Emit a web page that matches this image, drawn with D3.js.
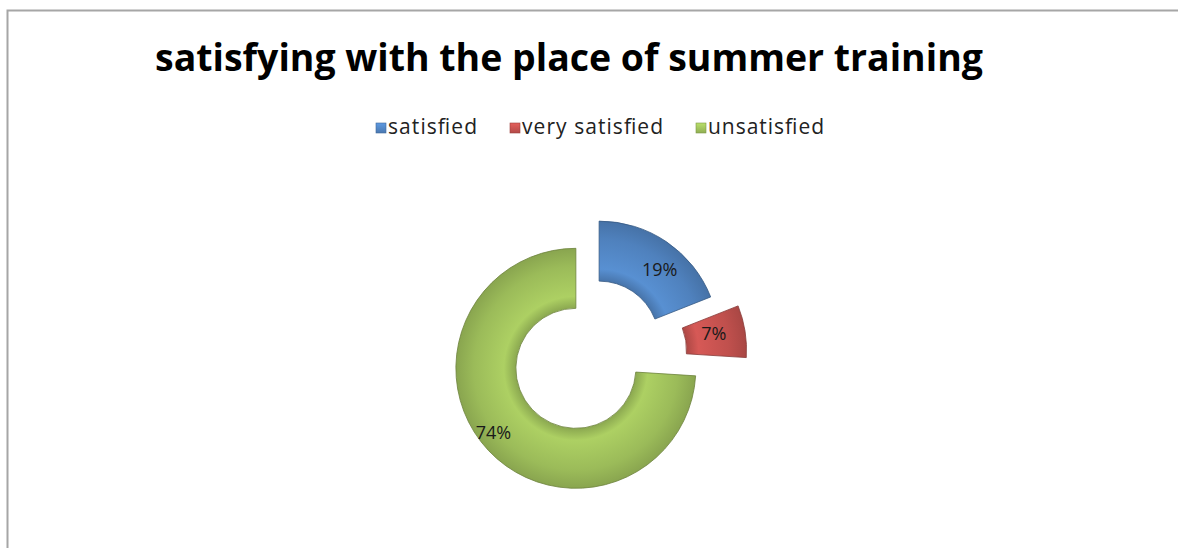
<!DOCTYPE html>
<html>
<head>
<meta charset="utf-8">
<script src="https://cdn.jsdelivr.net/npm/d3@7"></script>
<style>
  body { margin: 0; background: #fff; }
  svg { display: block; }
</style>
</head>
<body>
<div id="chart"></div>
<script>
// chart data
let categories = ["satisfied", "very satisfied", "unsatisfied"]
let values = [19, 7, 74]
let colors = ["#4f81bd", "#c0504d", "#9bbb59"]
let explode = [18, 38, 18]
let titleText = "satisfying with the place of summer training"

let width = 1178, height = 548
let cx = 589, cy = 356
let outerR = 120, innerR = 60

let svg = d3.select("#chart")
    .append("svg")
    .attr("width", width)
    .attr("height", height)

// frame (only top and left visible in the crop)
svg.append("path")
    .attr("d", `M7.5,${height} L7.5,10.5 L${width},10.5`)
    .attr("fill", "none")
    .attr("stroke", "#a6a6a6")
    .attr("stroke-width", 2)

// title, fitted to the width it has in the picture
let title = svg.append("text")
    .attr("x", 569)
    .attr("y", 71)
    .attr("text-anchor", "middle")
    .style("font-family", "'Open Sans', sans-serif")
    .style("font-weight", "bold")
    .style("font-size", "38px")
    .attr("fill", "#000")
    .text(titleText)
let tw = title.node().getComputedTextLength()
title.style("font-size", (38 * 828 / tw) + "px")

// gradients for the bevelled look
let defs = svg.append("defs")
colors.forEach((c, i) => {
    let g = defs.append("radialGradient")
        .attr("id", "grad" + i)
        .attr("gradientUnits", "userSpaceOnUse")
        .attr("cx", 0).attr("cy", 0).attr("r", outerR)
    g.append("stop").attr("offset", "50%").attr("stop-color", d3.color(c).darker(0.3))
    g.append("stop").attr("offset", "60%").attr("stop-color", d3.color(c).brighter(0.3))
    g.append("stop").attr("offset", "85%").attr("stop-color", c)
    g.append("stop").attr("offset", "100%").attr("stop-color", d3.color(c).darker(0.35))
})

// legend
let legendWidths = [89, 141, 116]
let legend = svg.append("g")
let lx = 0
categories.forEach((name, i) => {
    let lg = defs.append("linearGradient").attr("id", "lg" + i)
        .attr("x1", 0).attr("y1", 0).attr("x2", 0).attr("y2", 1)
    lg.append("stop").attr("offset", "0%").attr("stop-color", d3.color(colors[i]).brighter(0.5))
    lg.append("stop").attr("offset", "100%").attr("stop-color", d3.color(colors[i]).darker(0.2))

    let item = legend.append("g").attr("transform", `translate(${lx},0)`)
    item.append("rect")
        .attr("x", 0).attr("y", -11)
        .attr("width", 10).attr("height", 10)
        .attr("fill", `url(#lg${i})`)
        .attr("stroke", d3.color(colors[i]).darker(0.6))
        .attr("stroke-width", 0.6)
    item.append("text")
        .attr("x", 12).attr("y", 0)
        .attr("textLength", legendWidths[i])
        .attr("lengthAdjust", "spacing")
        .style("font-family", "'Open Sans', sans-serif")
        .style("font-size", "21px")
        .attr("fill", "#222")
        .text(name)
    lx += 12 + legendWidths[i] + 33
})
let lw = lx - 33
legend.attr("transform", `translate(${600 - lw / 2},134)`)

// doughnut
let pie = d3.pie().sort(null).value(d => d)
let arcs = pie(values)
let arc = d3.arc().innerRadius(innerR).outerRadius(outerR)

let ring = svg.append("g").attr("transform", `translate(${cx},${cy})`)

let slices = ring.selectAll("g.slice")
    .data(arcs)
    .enter().append("g")
    .attr("class", "slice")
    .attr("transform", (d, i) => {
        let a = (d.startAngle + d.endAngle) / 2
        return `translate(${Math.sin(a) * explode[i]},${-Math.cos(a) * explode[i]})`
    })

slices.append("path")
    .attr("d", arc)
    .attr("fill", (d, i) => `url(#grad${i})`)
    .attr("stroke", (d, i) => d3.color(colors[i]).darker(1))
    .attr("stroke-width", 0.8)

// percentage labels: [fraction along the arc, fraction of the radius]
let labelPos = [
    [0.59, 0.78],
    [0.44, 0.74],
    [0.52, 0.87]
]
slices.append("text")
    .attr("transform", (d, i) => {
        let a = d.startAngle + (d.endAngle - d.startAngle) * labelPos[i][0]
        let r = outerR * labelPos[i][1]
        return `translate(${Math.sin(a) * r},${-Math.cos(a) * r})`
    })
    .attr("text-anchor", "middle")
    .attr("dy", "0.35em")
    .style("font-family", "'Open Sans', sans-serif")
    .style("font-size", "18px")
    .attr("fill", "#1a1a1a")
    .text(d => d.data + "%")
</script>
</body>
</html>
